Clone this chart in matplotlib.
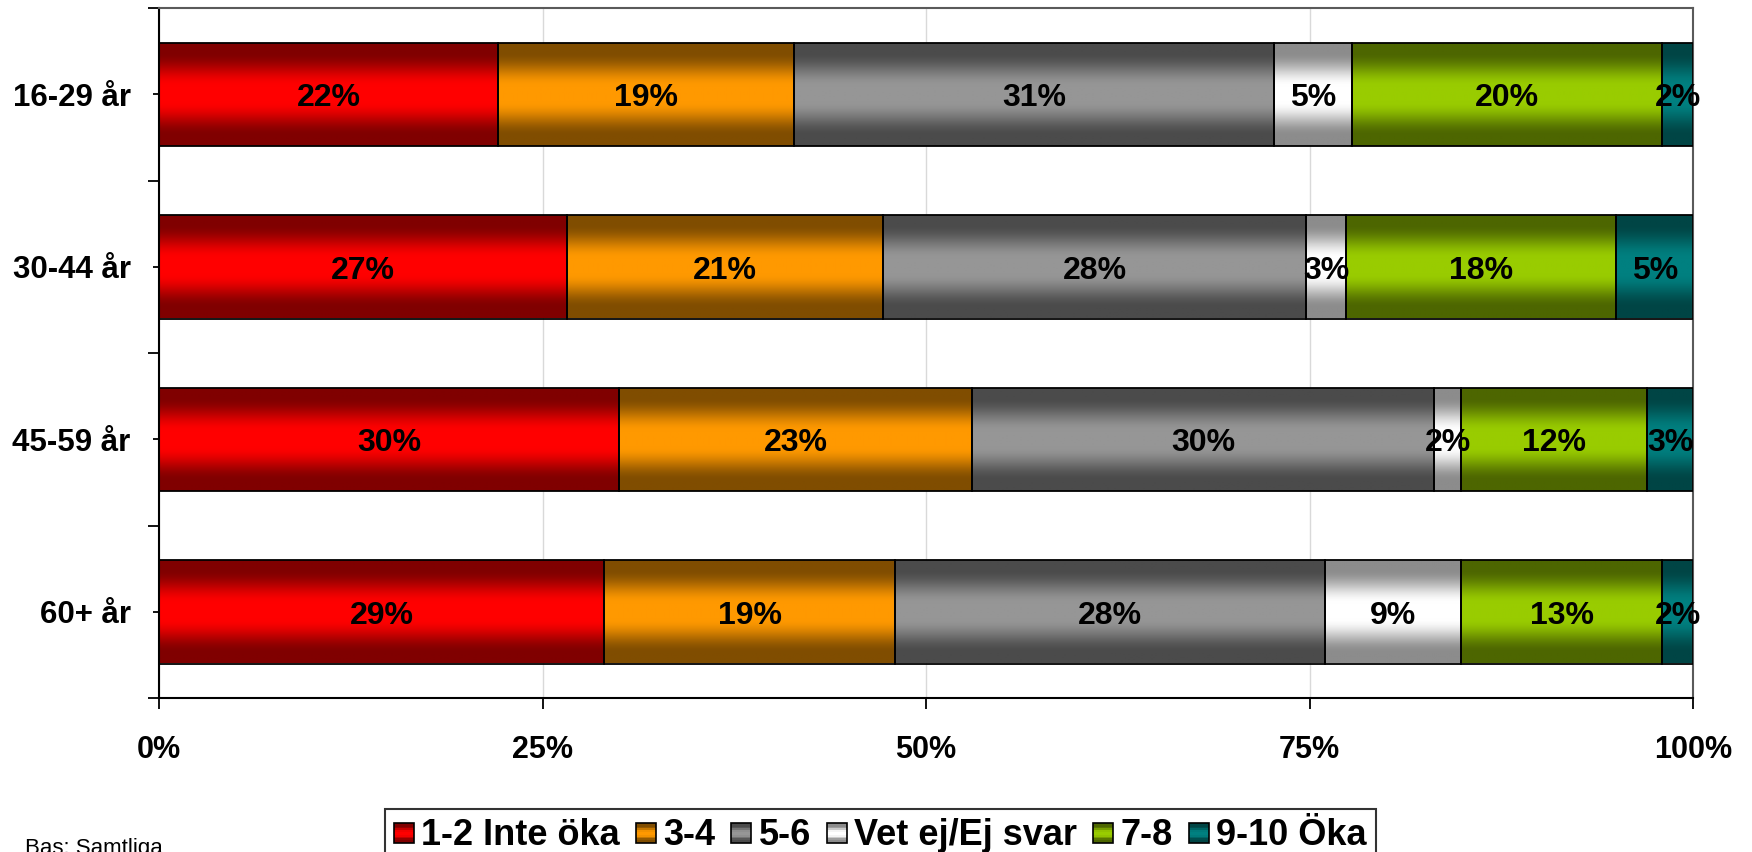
import numpy as np
import matplotlib
matplotlib.use("Agg")
from matplotlib import pyplot as plt
from matplotlib.legend_handler import HandlerBase
from matplotlib.patches import Rectangle

plt.rcParams['font.family'] = ['Liberation Sans', 'DejaVu Sans']

categories = ['16-29 år', '30-44 år', '45-59 år', '60+ år']
seriesNames = ['1-2 Inte öka', '3-4', '5-6', 'Vet ej/Ej svar', '7-8', '9-10 Öka']

inteOka = [22.1, 26.6, 30.0, 29.0]
val34 = [19.3, 20.6, 23.0, 19.0]
val56 = [31.3, 27.6, 30.1, 28.0]
vetEj = [5.1, 2.6, 1.8, 8.9]
val78 = [20.2, 17.6, 12.1, 13.1]
oka = [2.0, 5.0, 3.0, 2.0]

xTicks = [0, 25, 50, 75, 100]
xTickLabels = ['0%', '25%', '50%', '75%', '100%']

# bright centre colour and dark edge colour for each series
brightColors = ['#ff0000', '#ff9900', '#969696', '#ffffff', '#99cc00', '#008080']
darkColors = ['#800000', '#804d00', '#4b4b4b', '#8c8c8c', '#4d6600', '#004545']

FIG_W = 1752
FIG_H = 852


def hexToRgb(h):
    return np.array([int(h[i:i + 2], 16) / 255 for i in (1, 3, 5)])


def gradientColumn(bright, dark, n=200):
    # dark at top and bottom, bright plateau in the middle
    y = np.linspace(0, 1, n)
    t = np.abs(y - 0.5) * 2
    f = np.clip((t - 0.15) / (0.8 - 0.15), 0, 1)
    f = f * f * (3 - 2 * f)
    b = hexToRgb(bright)
    d = hexToRgb(dark)
    return (b[None, :] * (1 - f[:, None]) + d[None, :] * f[:, None])


class GradientHandler(HandlerBase):
    def __init__(self, bright, dark):
        super().__init__()
        self.bright = bright
        self.dark = dark

    def create_artists(self, legend, orig_handle, xdescent, ydescent, width, height, fontsize, trans):
        side = min(width, height)
        x0 = -xdescent + (width - side) / 2
        y0 = -ydescent + (height - side) / 2 - height * 0.05
        col = gradientColumn(self.bright, self.dark, n=12)
        artists = []
        step = side / len(col)
        for k, c in enumerate(col):
            artists.append(Rectangle((x0, y0 + k * step), side, step * 1.02, facecolor=c,
                                     edgecolor='none', transform=trans))
        artists.append(Rectangle((x0, y0), side, side, facecolor='none', edgecolor='black',
                                 linewidth=1.2, transform=trans))
        return artists


fig = plt.figure(figsize=(FIG_W / 100, FIG_H / 100), dpi=100)
ax = fig.add_axes([159 / FIG_W, 1 - 698 / FIG_H, (1693 - 159) / FIG_W, (698 - 8) / FIG_H])

allSeries = [inteOka, val34, val56, vetEj, val78, oka]
ypos = np.arange(len(categories))
left = np.zeros(len(categories))
handles = []
for i, vals in enumerate(allSeries):
    bars = ax.barh(ypos, vals, left=left, height=0.6, facecolor='none', edgecolor='black',
                   linewidth=1.3, zorder=3, label=seriesNames[i])
    grad = gradientColumn(brightColors[i], darkColors[i])[:, None, :]
    for patch in bars.patches:
        x = patch.get_x()
        y = patch.get_y()
        w = patch.get_width()
        h = patch.get_height()
        im = ax.imshow(grad, extent=[x, x + w, y + h, y], aspect='auto',
                       interpolation='bilinear', zorder=2)
        im.set_clip_path(patch)
    for j, patch in enumerate(bars.patches):
        cx = left[j] + vals[j] / 2
        ax.annotate(f"{vals[j]:.0f}%", (cx, ypos[j]), xytext=(0, -3), textcoords='offset points',
                    ha='center', va='center', fontsize=23, fontweight='bold', color='black', zorder=5)
    handles.append(bars)
    left = left + np.array(vals)

ax.set_xlim(0, 100)
ax.set_ylim(len(categories) - 0.5, -0.5)

ax.set_xticks(xTicks)
ax.set_xticklabels(xTickLabels, fontsize=22, fontweight='bold')
ax.set_yticks(ypos)
ax.set_yticklabels(categories, fontsize=22.5, fontweight='bold')
ax.set_yticks(np.arange(-0.5, len(categories), 1.0), minor=True)

ax.tick_params(axis='x', direction='out', length=8, width=1.3, pad=19)
ax.tick_params(axis='y', which='major', direction='inout', length=9, width=1.3, pad=16)
ax.tick_params(axis='y', which='minor', direction='out', length=8, width=1.3)

ax.grid(axis='x', color='#d9d9d9', linewidth=1.0, zorder=0)
ax.set_axisbelow(True)

for side in ['left', 'bottom']:
    ax.spines[side].set_color('black')
    ax.spines[side].set_linewidth(1.5)
for side in ['top', 'right']:
    ax.spines[side].set_color('#5a5a5a')
    ax.spines[side].set_linewidth(1.5)

handlerMap = {handles[i]: GradientHandler(brightColors[i], darkColors[i]) for i in range(len(handles))}
leg = fig.legend(handles, seriesNames, loc='upper left', bbox_to_anchor=(385 / FIG_W, 1 - 809 / FIG_H),
                 ncol=6, prop={'weight': 'bold', 'size': 26}, frameon=True, fancybox=False,
                 edgecolor='black', borderaxespad=0, borderpad=0.25, handlelength=0.55,
                 handleheight=0.55, handletextpad=0.2, columnspacing=0.45, handler_map=handlerMap)
leg.get_frame().set_linewidth(1.5)

fig.text(25 / FIG_W, 1 - 838 / FIG_H, 'Bas: Samtliga', fontsize=16, va='top', ha='left')

fig.savefig('out.png', dpi=100)
